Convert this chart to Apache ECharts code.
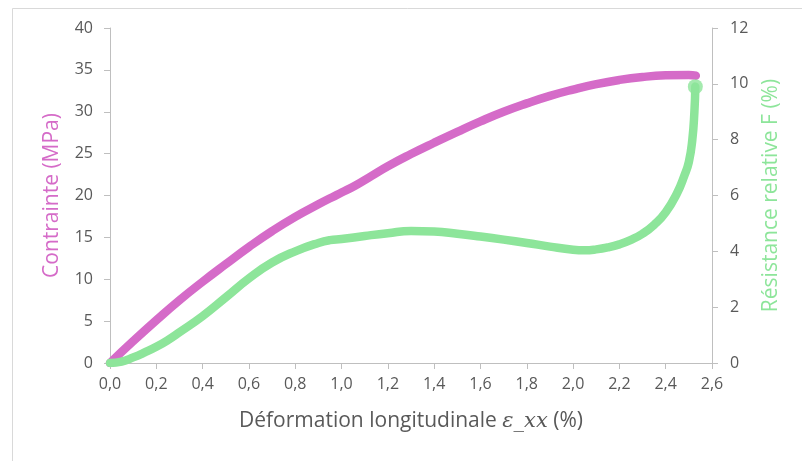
<!DOCTYPE html>
<html>
<head>
<meta charset="utf-8">
<script src="https://cdn.jsdelivr.net/npm/echarts@6/dist/echarts.min.js"></script>
<style>
html,body{margin:0;padding:0;background:#fff;}
#chart{width:802px;height:461px;}
</style>
</head>
<body>
<div id="chart"></div>
<script>
// Contrainte (MPa) vs déformation (%)
var stressStrain = [0, 0.1, 0.2, 0.3, 0.4, 0.5, 0.6, 0.7, 0.8, 0.9, 0.96, 1.0, 1.06, 1.13, 1.2, 1.3, 1.4, 1.5, 1.6, 1.7, 1.8, 1.9, 2.0, 2.1, 2.2, 2.3, 2.4, 2.5, 2.53];
var stressValues = [0, 2.6, 5.1, 7.5, 9.7, 11.8, 13.85, 15.75, 17.45, 18.95, 19.8, 20.35, 21.2, 22.35, 23.5, 24.95, 26.3, 27.6, 28.85, 30.0, 31.0, 31.9, 32.65, 33.3, 33.8, 34.15, 34.35, 34.4, 34.3];

// Résistance relative F (%) vs déformation (%)
var resStrain = [0, 0.05, 0.1, 0.15, 0.2, 0.25, 0.3, 0.4, 0.5, 0.6, 0.7, 0.8, 0.9, 0.95, 1.0, 1.1, 1.2, 1.3, 1.4, 1.5, 1.6, 1.7, 1.8, 1.9, 2.0, 2.05, 2.1, 2.15, 2.2, 2.25, 2.3, 2.35, 2.4, 2.45, 2.48, 2.5, 2.515, 2.524, 2.528];
var resValues = [0, 0.05, 0.2, 0.38, 0.58, 0.82, 1.1, 1.68, 2.35, 3.03, 3.6, 4.0, 4.3, 4.4, 4.44, 4.55, 4.65, 4.73, 4.71, 4.63, 4.53, 4.42, 4.3, 4.17, 4.06, 4.04, 4.07, 4.14, 4.25, 4.41, 4.63, 4.95, 5.4, 6.1, 6.7, 7.2, 8.0, 9.0, 9.9];

var xTitle = 'Déformation longitudinale ';
var xTitleMath = 'ε_xx';
var xTitleEnd = ' (%)';
var yLeftTitle = 'Contrainte (MPa)';
var yRightTitle = 'Résistance relative F (%)';

function pairs(xs, ys) { return xs.map(function (x, i) { return [x, ys[i]]; }); }

var purple = '#D56BC8';
var green = '#8DE59A';
var axisColor = '#BFBFBF';
var labelColor = '#595959';
var font = 'Open Sans';

var chart = echarts.init(document.getElementById('chart'), null, {renderer: 'canvas'});
var option = {
  animation: false,
  backgroundColor: '#fff',
  graphic: [{
    type: 'rect',
    left: 10, top: 6,
    shape: {width: 820, height: 480},
    style: {fill: 'none', stroke: '#D9D9D9', lineWidth: 1},
    silent: true, z: -1
  }],
  grid: {left: 110, right: 90, top: 28, bottom: 98, containLabel: false},
  xAxis: {
    type: 'value', min: 0, max: 2.6, interval: 0.2,
    axisLine: {show: true, onZero: false, lineStyle: {color: axisColor, width: 1}},
    axisTick: {show: true, length: 6, lineStyle: {color: axisColor}},
    splitLine: {show: false},
    axisLabel: {color: labelColor, fontSize: 16, fontFamily: font, margin: 13,
      formatter: function (v) { return v.toFixed(1).replace('.', ','); }},
    name: '{a|' + xTitle + '}{b|' + xTitleMath + '}{a|' + xTitleEnd + '}',
    nameLocation: 'middle', nameGap: 48,
    nameTextStyle: {
      rich: {
        a: {color: labelColor, fontSize: 21, fontFamily: font},
        b: {color: labelColor, fontSize: 21, fontFamily: 'DejaVu Serif', fontStyle: 'italic'}
      }
    }
  },
  yAxis: [{
    type: 'value', min: 0, max: 40, interval: 5,
    axisLine: {show: true, lineStyle: {color: axisColor, width: 1}},
    axisTick: {show: true, length: 6, lineStyle: {color: axisColor}},
    splitLine: {show: false},
    axisLabel: {color: labelColor, fontSize: 16, fontFamily: font, margin: 17},
    name: yLeftTitle, nameLocation: 'middle', nameGap: 47, nameRotate: 90,
    nameTextStyle: {color: purple, fontSize: 21, fontFamily: font}
  }, {
    type: 'value', min: 0, max: 12, interval: 2, position: 'right',
    axisLine: {show: true, lineStyle: {color: axisColor, width: 1}},
    axisTick: {show: true, length: 6, lineStyle: {color: axisColor}},
    splitLine: {show: false},
    axisLabel: {color: labelColor, fontSize: 16, fontFamily: font, margin: 18},
    name: yRightTitle, nameLocation: 'middle', nameGap: 49, nameRotate: 90,
    nameTextStyle: {color: green, fontSize: 21, fontFamily: font}
  }],
  series: [{
    type: 'line', yAxisIndex: 0, data: pairs(stressStrain, stressValues),
    smooth: 0.5, showSymbol: false, symbol: 'none',
    lineStyle: {color: purple, width: 8.5, cap: 'round', join: 'round'},
    z: 2
  }, {
    type: 'line', yAxisIndex: 1, data: pairs(resStrain, resValues),
    smooth: 0.5, showSymbol: false, symbol: 'none',
    lineStyle: {color: green, width: 8.5, cap: 'round', join: 'round'},
    z: 3
  }, {
    type: 'scatter', yAxisIndex: 1,
    data: [[resStrain[resStrain.length - 1], resValues[resValues.length - 1]]],
    symbol: 'circle', symbolSize: 15,
    itemStyle: {color: green},
    z: 4
  }]
};
chart.setOption(option);
</script>
</body>
</html>
